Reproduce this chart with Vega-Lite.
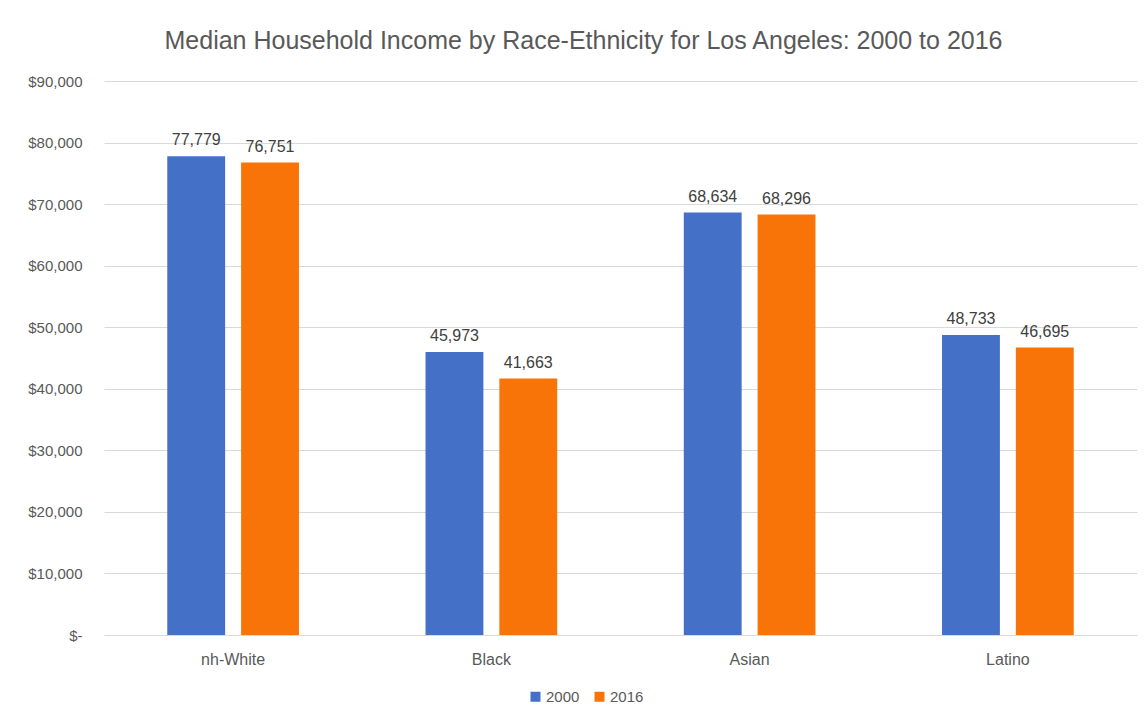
{
  "$schema": "https://vega.github.io/schema/vega-lite/v6.json",
  "autosize": "none",
  "width": 1033,
  "height": 554,
  "padding": {"left": 104, "top": 81, "right": 8, "bottom": 88},
  "background": "white",
  "title": {
    "text": "Median Household Income by Race-Ethnicity for Los Angeles: 2000 to 2016",
    "font": "Liberation Sans",
    "fontSize": 25,
    "fontWeight": "normal",
    "color": "#595959",
    "anchor": "middle",
    "dx": -37,
    "offset": 20
  },
  "data": {
    "values": [
      {"group": "nh-White", "year": "2000", "income": 77779},
      {"group": "nh-White", "year": "2016", "income": 76751},
      {"group": "Black", "year": "2000", "income": 45973},
      {"group": "Black", "year": "2016", "income": 41663},
      {"group": "Asian", "year": "2000", "income": 68634},
      {"group": "Asian", "year": "2016", "income": 68296},
      {"group": "Latino", "year": "2000", "income": 48733},
      {"group": "Latino", "year": "2016", "income": 46695}
    ]
  },
  "encoding": {
    "x": {
      "field": "group",
      "type": "nominal",
      "sort": ["nh-White", "Black", "Asian", "Latino"],
      "scale": {"paddingInner": 0.49, "paddingOuter": 0.245},
      "axis": {
        "title": null,
        "labelAngle": 0,
        "labelFont": "Liberation Sans",
        "labelFontSize": 16,
        "labelColor": "#595959",
        "labelPadding": 16,
        "ticks": false,
        "domain": false
      }
    },
    "xOffset": {
      "field": "year",
      "type": "nominal",
      "scale": {"paddingInner": 0.216, "paddingOuter": 0}
    },
    "y": {
      "field": "income",
      "type": "quantitative",
      "scale": {"domain": [0, 90000]},
      "axis": {
        "title": null,
        "values": [0, 10000, 20000, 30000, 40000, 50000, 60000, 70000, 80000, 90000],
        "labelExpr": "datum.value == 0 ? '$-' : '$' + format(datum.value, ',')",
        "labelFont": "Liberation Sans",
        "labelFontSize": 15,
        "labelColor": "#595959",
        "labelPadding": 22,
        "ticks": false,
        "domain": false,
        "grid": true,
        "gridColor": "#d9d9d9",
        "gridWidth": 1.2
      }
    }
  },
  "layer": [
    {
      "mark": {"type": "bar"},
      "encoding": {
        "color": {
          "field": "year",
          "type": "nominal",
          "scale": {"domain": ["2000", "2016"], "range": ["#4470C8", "#F97408"]},
          "legend": {
            "title": null,
            "orient": "none",
            "direction": "horizontal",
            "legendX": 424,
            "legendY": 608,
            "symbolType": "square",
            "symbolSize": 100,
            "symbolStrokeWidth": 0,
            "labelFont": "Liberation Sans",
            "labelFontSize": 15,
            "labelColor": "#595959",
            "labelOffset": 3,
            "columnPadding": 12
          }
        }
      }
    },
    {
      "mark": {
        "type": "text",
        "baseline": "bottom",
        "dy": -8,
        "font": "Liberation Sans",
        "fontSize": 16,
        "color": "#404040"
      },
      "encoding": {
        "text": {"field": "income", "type": "quantitative", "format": ","}
      }
    }
  ],
  "config": {"view": {"stroke": null}}
}
